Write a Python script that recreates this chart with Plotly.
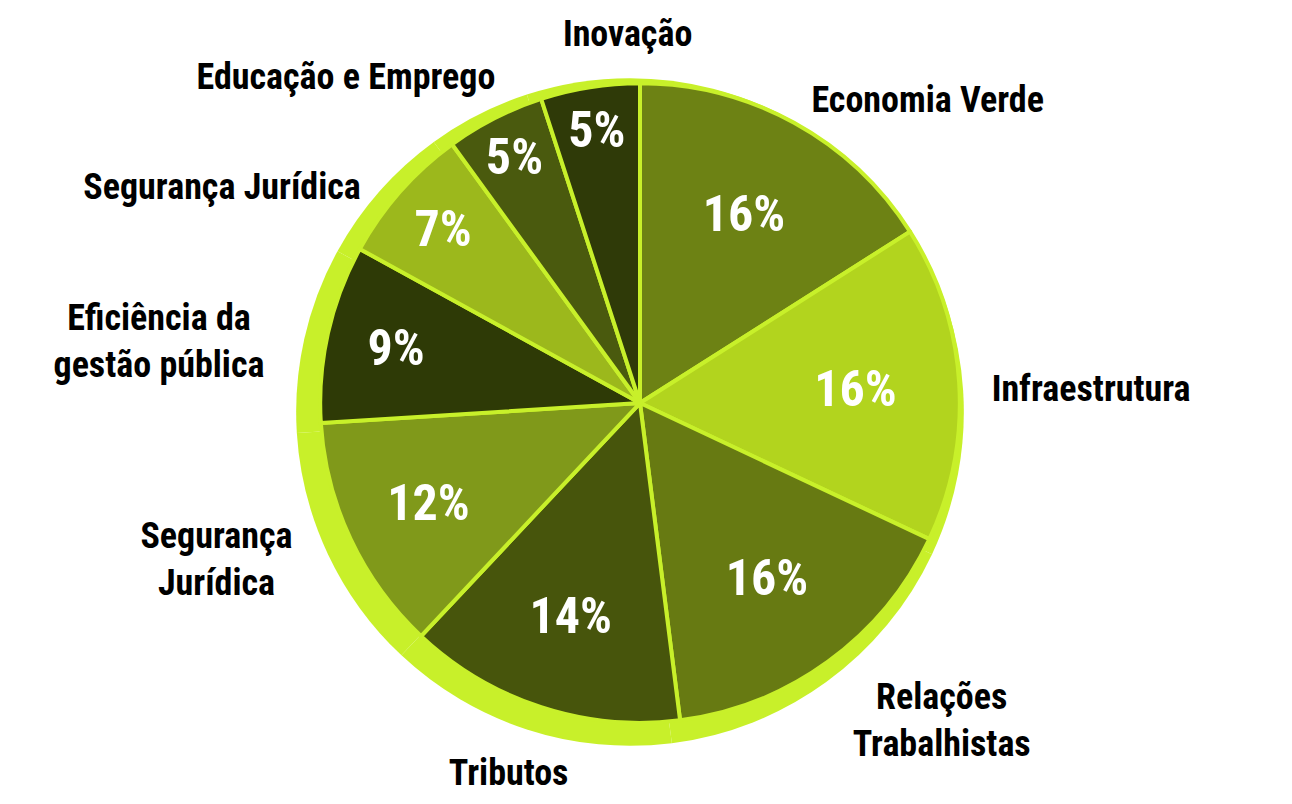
import plotly.graph_objects as go

# slice data, clockwise from 12 o'clock
labels = ["Economia Verde", "Infraestrutura", "Relações<br>Trabalhistas", "Tributos",
          "Segurança<br>Jurídica", "Eficiência da<br>gestão pública", "Segurança Jurídica",
          "Educação e Emprego", "Inovação"]
values = [16, 16, 16, 14, 12, 9, 7, 5, 5]
colors = ["#6d8214", "#b2d41e", "#677a12", "#47550c", "#80991a",
          "#2e3a06", "#9cb81c", "#4a5a0e", "#2f3a08"]

LIME = "#c8f02a"
FONT = "Roboto Condensed, DejaVu Sans Condensed, DejaVu Sans, sans-serif"
W, H = 1292, 804
DX, DY, K = -8, -7, 1.005   # screen calibration (page margin)

# small per-label nudges (px) so the outside labels sit like the original
nudge = [(1, 13), (-1, -1), (-7, -6), (58, 6), (4, -11), (1, 9), (6, 18), (36, -4), (128, -9)]


def dom(cx, cy, r):
    # pixel circle -> paper domain
    cx, cy, r = cx + DX, cy + DY, r * K
    return dict(x=[(cx - r) / W, (cx + r) / W], y=[1 - (cy + r) / H, 1 - (cy - r) / H])


fig = go.Figure()

# lime backing disc, a little bigger and shifted down-left
fig.add_trace(go.Pie(
    labels=labels, values=values, sort=False, direction="clockwise", rotation=0,
    domain=dom(630, 410, 333), textinfo="none", hoverinfo="skip",
    marker=dict(colors=[LIME] * len(values), line=dict(color=LIME, width=0)),
    showlegend=False,
))

# invisible wider pies that only carry the outside category labels,
# one per label so plotly doesn't shove them around
for i, (nx, ny) in enumerate(nudge):
    txt = [""] * len(labels)
    txt[i] = labels[i]
    fig.add_trace(go.Pie(
        labels=labels, values=values, sort=False, direction="clockwise", rotation=0,
        domain=dom(630 + nx, 410 + ny, 352), text=txt, textinfo="text", textposition="outside",
        outsidetextfont=dict(family=FONT, size=36, color="#000000", weight="bold"),
        marker=dict(colors=["rgba(0,0,0,0)"] * len(values), line=dict(width=0)),
        hoverinfo="skip", showlegend=False,
    ))

# main pie with percentages
fig.add_trace(go.Pie(
    labels=labels, values=values, sort=False, direction="clockwise", rotation=0,
    domain=dom(640, 401, 319), textinfo="percent", textposition="inside",
    texttemplate="%{percent:.0%}", insidetextorientation="horizontal",
    insidetextfont=dict(family=FONT, size=50, color="#ffffff", weight="bold"),
    marker=dict(colors=colors, line=dict(color=LIME, width=4)),
    showlegend=False,
))

fig.update_layout(
    width=W, height=H,
    margin=dict(l=0, r=0, t=0, b=0),
    paper_bgcolor="#ffffff",
    plot_bgcolor="#ffffff",
    showlegend=False,
)

fig.write_html("out.html")
